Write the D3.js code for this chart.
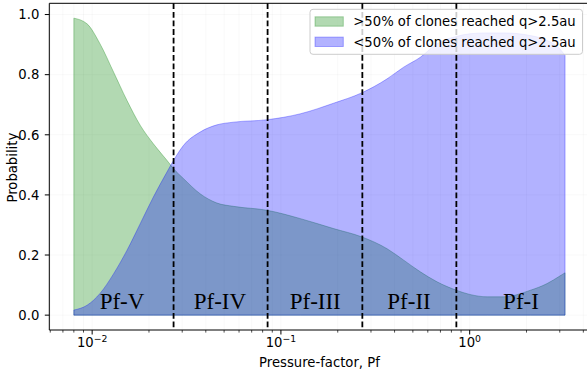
<!DOCTYPE html>
<html>
<head>
<meta charset="utf-8">
<script src="https://cdn.jsdelivr.net/npm/d3@7"></script>
<style>
  html, body { margin: 0; padding: 0; background: #fff; }
  svg { display: block; }
  text { font-family: "DejaVu Sans", sans-serif; fill: #000; }
</style>
</head>
<body>
<svg id="chart" width="587" height="372"></svg>
<script>
// Pressure-factor sample points
const pf = [0.008, 0.0094, 0.011, 0.013, 0.0153, 0.018, 0.0211, 0.0249, 0.027, 0.0305,
            0.0373, 0.0458, 0.0561, 0.0843, 0.127, 0.19, 0.269, 0.365, 0.447, 0.548,
            0.671, 0.849, 1.0, 1.24, 1.51, 2.1, 2.57, 3.0, 3.2];
// Probability that >50% of clones reached q>2.5au
const pAbove = [0.988, 0.969, 0.903, 0.808, 0.714, 0.631, 0.570, 0.515, 0.487, 0.454,
                0.404, 0.373, 0.362, 0.349, 0.321, 0.288, 0.260, 0.221, 0.183, 0.144,
                0.111, 0.083, 0.069, 0.061, 0.061, 0.083, 0.105, 0.130, 0.141];
// Probability that <50% of clones reached q>2.5au
const pBelow = [0.017, 0.033, 0.072, 0.138, 0.216, 0.305, 0.393, 0.476, 0.515, 0.565,
                0.609, 0.633, 0.642, 0.650, 0.670, 0.705, 0.740, 0.786, 0.825, 0.858,
                0.903, 0.927, 0.936, 0.939, 0.939, 0.930, 0.914, 0.886, 0.864];
const seriesNames = [">50% of clones reached q>2.5au", "<50% of clones reached q>2.5au"];
// Regime boundaries and names
const boundaries = [0.027, 0.085, 0.27, 0.85];
const regionNames = ["Pf-V", "Pf-IV", "Pf-III", "Pf-II", "Pf-I"];
const regionLabelPf = [0.0144, 0.0475, 0.152, 0.477, 1.87];
const yTicks = [0, 0.2, 0.4, 0.6, 0.8, 1.0];
const xMajorTicks = [0.01, 0.1, 1];
const xTickExponents = ["\u22122", "\u22121", "0"];

const svg = d3.select("#chart");
const plot = { left: 49.3, right: 589.6, top: 3.3, bottom: 330 };

// axis limits padded by 5% of the data span (log space on x)
const lx = d3.extent(pf).map(Math.log10);
const padX = 0.05 * (lx[1] - lx[0]);
const x = d3.scaleLog()
  .domain([Math.pow(10, lx[0] - padX), Math.pow(10, lx[1] + padX)])
  .range([plot.left, plot.right]);
const yMax = d3.max(pAbove.concat(pBelow));
const padY = 0.05 * yMax;
const y = d3.scaleLinear().domain([-padY, yMax + padY]).range([plot.bottom, plot.top]);

const clip = svg.append("defs").append("clipPath").attr("id", "clip")
  .append("rect").attr("x", plot.left).attr("y", plot.top)
  .attr("width", plot.right - plot.left).attr("height", plot.bottom - plot.top);

// faint grid
const minorTicks = x.ticks().filter(t => t >= x.domain()[0] && t <= x.domain()[1]);
const grid = svg.append("g").attr("clip-path", "url(#clip)");
grid.selectAll("line.gx").data(minorTicks).join("line")
  .attr("x1", d => x(d)).attr("x2", d => x(d))
  .attr("y1", plot.top).attr("y2", plot.bottom)
  .attr("stroke", "#000").attr("stroke-opacity", 0.035).attr("stroke-width", 0.8);
grid.selectAll("line.gy").data(yTicks).join("line")
  .attr("x1", plot.left).attr("x2", plot.right)
  .attr("y1", d => y(d)).attr("y2", d => y(d))
  .attr("stroke", "#000").attr("stroke-opacity", 0.035).attr("stroke-width", 0.8);

// filled probability areas
const rows = pf.map((p, i) => ({ pf: p, above: pAbove[i], below: pBelow[i] }));
const areaFor = key => d3.area()
  .x(d => x(d.pf)).y0(y(0)).y1(d => y(d[key]))
  .curve(d3.curveMonotoneX);
const areas = svg.append("g").attr("clip-path", "url(#clip)");
areas.append("path").datum(rows).attr("d", areaFor("above"))
  .attr("fill", "#008000").attr("fill-opacity", 0.3)
  .attr("stroke", "#008000").attr("stroke-opacity", 0.3).attr("stroke-width", 1);
areas.append("path").datum(rows).attr("d", areaFor("below"))
  .attr("fill", "#0000ff").attr("fill-opacity", 0.3)
  .attr("stroke", "#0000ff").attr("stroke-opacity", 0.3).attr("stroke-width", 1);

// regime boundaries
svg.append("g").selectAll("line").data(boundaries).join("line")
  .attr("x1", d => x(d)).attr("x2", d => x(d))
  .attr("y1", plot.top).attr("y2", plot.bottom)
  .attr("stroke", "#000").attr("stroke-width", 1.8)
  .attr("stroke-dasharray", "5.8,2.8");

// regime names
svg.append("g").selectAll("text").data(regionNames).join("text")
  .attr("x", (d, i) => x(regionLabelPf[i])).attr("y", 308.5)
  .attr("text-anchor", "middle")
  .style("font-family", "'Liberation Serif', 'Times New Roman', serif")
  .style("font-size", "23px")
  .text(d => d);

// axes
const axes = svg.append("g");
axes.append("line").attr("x1", plot.left).attr("x2", plot.left)
  .attr("y1", plot.top).attr("y2", plot.bottom).attr("stroke", "#000").attr("stroke-width", 1);
axes.append("line").attr("x1", plot.left).attr("x2", plot.right)
  .attr("y1", plot.bottom).attr("y2", plot.bottom).attr("stroke", "#000").attr("stroke-width", 1);
axes.append("line").attr("x1", plot.left).attr("x2", plot.right)
  .attr("y1", plot.top).attr("y2", plot.top).attr("stroke", "#000").attr("stroke-width", 1);
axes.append("line").attr("x1", plot.right).attr("x2", plot.right)
  .attr("y1", plot.top).attr("y2", plot.bottom).attr("stroke", "#000").attr("stroke-width", 1);

// y ticks
axes.selectAll("line.yt").data(yTicks).join("line")
  .attr("x1", plot.left - 4.5).attr("x2", plot.left)
  .attr("y1", d => y(d)).attr("y2", d => y(d)).attr("stroke", "#000").attr("stroke-width", 1);
axes.selectAll("text.yt").data(yTicks).join("text")
  .attr("x", plot.left - 10).attr("y", d => y(d)).attr("dy", "0.36em")
  .attr("text-anchor", "end").style("font-size", "13.2px")
  .text(d => d3.format(".1f")(d));

// x ticks (major + minor)
axes.selectAll("line.xt").data(minorTicks).join("line")
  .attr("x1", d => x(d)).attr("x2", d => x(d))
  .attr("y1", plot.bottom)
  .attr("y2", d => plot.bottom + (xMajorTicks.some(m => Math.abs(m - d) < 1e-12) ? 4.5 : 2.6))
  .attr("stroke", "#000").attr("stroke-width", d => xMajorTicks.some(m => Math.abs(m - d) < 1e-12) ? 1 : 0.7);
const xl = axes.selectAll("text.xt").data(xMajorTicks).join("text")
  .attr("x", d => x(d)).attr("y", 346.7).attr("text-anchor", "middle")
  .style("font-size", "13.2px");
xl.append("tspan").text("10");
xl.append("tspan").attr("dy", -5).style("font-size", "9.3px")
  .text((d, i) => xTickExponents[i]);

// axis titles
svg.append("text").attr("x", (plot.left + plot.right) / 2).attr("y", 366.8)
  .attr("text-anchor", "middle").style("font-size", "13.2px").text("Pressure-factor, Pf");
svg.append("text").attr("transform", "translate(17.4," + ((plot.top + plot.bottom) / 2 + 1) + ") rotate(-90)")
  .attr("text-anchor", "middle").style("font-size", "13.2px").text("Probability");

// legend
const legend = svg.append("g");
legend.append("rect").attr("x", 310).attr("y", 9.3).attr("width", 272.5).attr("height", 45)
  .attr("rx", 3).attr("fill", "#fff").attr("fill-opacity", 0.8)
  .attr("stroke", "#ccc").attr("stroke-width", 1);
const legendColors = ["#008000", "#0000ff"];
seriesNames.forEach((name, i) => {
  const cy = 21.5 + i * 20.3;
  legend.append("rect").attr("x", 315).attr("y", cy - 4.7).attr("width", 28.3).attr("height", 9.4)
    .attr("fill", legendColors[i]).attr("fill-opacity", 0.3)
    .attr("stroke", legendColors[i]).attr("stroke-opacity", 0.3);
  legend.append("text").attr("x", 353.3).attr("y", cy + 4.8)
    .style("font-size", "13.2px").text(name);
});
</script>
</body>
</html>
